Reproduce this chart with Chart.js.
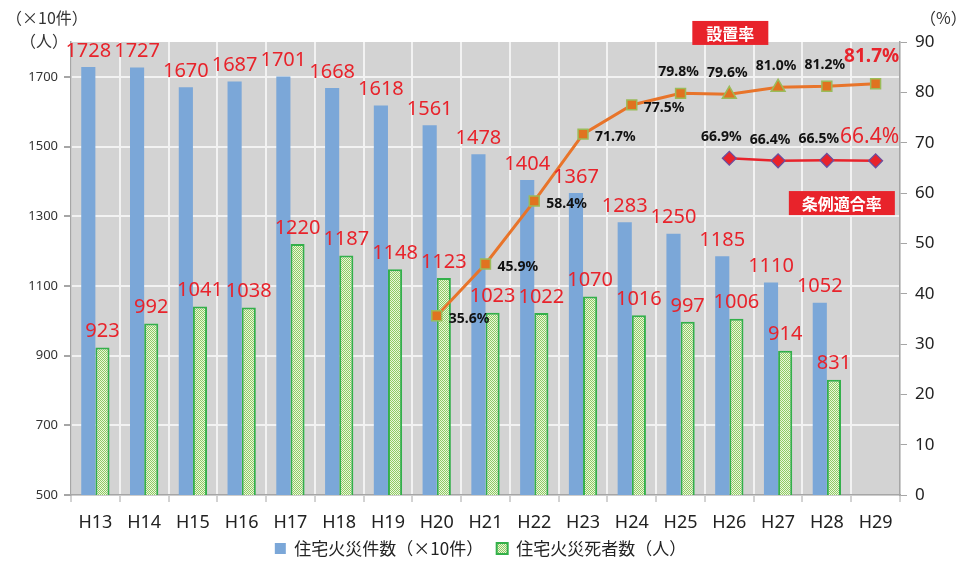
<!DOCTYPE html>
<html>
<head>
<meta charset="utf-8">
<script src="https://cdn.jsdelivr.net/npm/chart.js@4/dist/chart.umd.min.js"></script>
<style>
  html, body { margin: 0; padding: 0; background: #fff; }
  #wrap { width: 961px; height: 561px; }
</style>
</head>
<body>
<div id="wrap"><canvas id="fires"></canvas></div>
<script>
const years = ['H13','H14','H15','H16','H17','H18','H19','H20','H21','H22','H23','H24','H25','H26','H27','H28','H29'];
const fireCounts = [1728,1727,1670,1687,1701,1668,1618,1561,1478,1404,1367,1283,1250,1185,1110,1052,null];
const fireDeaths = [923,992,1041,1038,1220,1187,1148,1123,1023,1022,1070,1016,997,1006,914,831,null];
const installRate = [null,null,null,null,null,null,null,35.6,45.9,58.4,71.7,77.5,79.8,79.6,81.0,81.2,81.7];
const complianceRate = [null,null,null,null,null,null,null,null,null,null,null,null,null,66.9,66.4,66.5,66.4];
const leftTicks = [500,700,900,1100,1300,1500,1700];
const rightTicks = [0,10,20,30,40,50,60,70,80,90];

// where the % labels sit next to each point
const installLabelPos = [null,null,null,null,null,null,null,'right','right','right','right','right','top','top','top','top','top'];

const RED = '#E8232B';
const FONT = '"Noto Sans CJK JP", "Noto Sans", sans-serif';

function hatch() {
  const c = document.createElement('canvas');
  c.width = 4; c.height = 4;
  const g = c.getContext('2d');
  g.fillStyle = '#EAF6DC';
  g.fillRect(0, 0, 4, 4);
  g.fillStyle = '#8FCB63';
  for (let i = 0; i < 4; i++) {
    g.fillRect(i, i, 1, 1);
    g.fillRect((i + 2) % 4, i, 1, 1);
  }
  return g.createPattern(c, 'repeat');
}
const greenFill = hatch();

const decorations = {
  id: 'decorations',
  afterInit(chart) {
    // keep the legend strip thin so the plot reaches down like the original
    const lg = chart.legend;
    const fit = lg.fit;
    lg.fit = function() { fit.call(this); this.height = 26; };
  },
  beforeDraw(chart) {
    const { ctx, chartArea: a } = chart;
    ctx.save();
    ctx.fillStyle = '#D3D3D3';
    ctx.fillRect(a.left, a.top, a.right - a.left, a.bottom - a.top);
    ctx.restore();
  },
  afterDatasetsDraw(chart) {
    const { ctx } = chart;
    const x = chart.scales.x, yR = chart.scales.yR;
    ctx.save();

    // bar value labels
    ctx.font = '20px "Noto Sans", sans-serif';
    ctx.fillStyle = RED;
    ctx.textAlign = 'center';
    ctx.textBaseline = 'middle';
    [0, 1].forEach(di => {
      chart.getDatasetMeta(di).data.forEach((bar, i) => {
        const v = chart.data.datasets[di].data[i];
        if (v == null) return;
        ctx.fillText(String(v), bar.x, bar.y - 16);
      });
    });

    // percentage labels
    const last = years.length - 1;
    chart.getDatasetMeta(2).data.forEach((p, i) => {
      const v = installRate[i];
      if (v == null) return;
      const txt = v.toFixed(1) + '%';
      if (i === last) {
        ctx.font = 'bold 19px "Noto Sans", sans-serif';
        ctx.fillStyle = RED;
        ctx.textAlign = 'center';
        ctx.fillText(txt, p.x - 4, p.y - 27);
        return;
      }
      ctx.font = 'bold 14px "Noto Sans", sans-serif';
      ctx.fillStyle = '#111';
      if (installLabelPos[i] === 'right') {
        ctx.textAlign = 'left';
        ctx.fillText(txt, p.x + 12, p.y + 3);
      } else {
        ctx.textAlign = 'center';
        ctx.fillText(txt, p.x - 2, p.y - 21);
      }
    });
    chart.getDatasetMeta(3).data.forEach((p, i) => {
      const v = complianceRate[i];
      if (v == null) return;
      const txt = v.toFixed(1) + '%';
      ctx.textAlign = 'center';
      if (i === last) {
        ctx.font = '21px "Noto Sans", sans-serif';
        ctx.fillStyle = RED;
        ctx.fillText(txt, p.x - 6, p.y - 24);
      } else {
        ctx.font = 'bold 14px "Noto Sans", sans-serif';
        ctx.fillStyle = '#111';
        ctx.fillText(txt, p.x - 8, p.y - 21);
      }
    });

    // red name tags
    function tag(text, cx, cy, w) {
      ctx.fillStyle = RED;
      ctx.fillRect(cx - w / 2, cy - 12, w, 24);
      ctx.fillStyle = '#fff';
      ctx.font = 'bold 16px ' + FONT;
      ctx.textAlign = 'center';
      ctx.fillText(text, cx, cy + 1);
    }
    tag('設置率', x.getPixelForValue(13) + 1, yR.getPixelForValue(91.8), 76);
    tag('条例適合率', x.getPixelForValue(15) + 15, yR.getPixelForValue(58), 106);

    // axis unit captions
    ctx.fillStyle = '#333';
    ctx.font = '16px ' + FONT;
    ctx.textAlign = 'left';
    ctx.fillText('（×10件）', 6, 18);
    ctx.fillText('（人）', 20, 41);
    ctx.fillText('（%）', 920, 18);
    ctx.restore();
  }
};

new Chart(document.getElementById('fires'), {
  data: {
    labels: years,
    datasets: [
      {
        type: 'bar',
        label: '住宅火災件数（×10件）',
        data: fireCounts,
        backgroundColor: '#7BA7D8',
        borderWidth: 0,
        yAxisID: 'y',
        order: 2,
        barPercentage: 1.0,
        categoryPercentage: 0.58
      },
      {
        type: 'bar',
        label: '住宅火災死者数（人）',
        data: fireDeaths,
        backgroundColor: greenFill,
        borderColor: '#33B04A',
        borderWidth: 2,
        borderSkipped: false,
        yAxisID: 'y',
        order: 2,
        barPercentage: 1.0,
        categoryPercentage: 0.58
      },
      {
        type: 'line',
        label: '設置率',
        data: installRate,
        borderColor: '#E8742A',
        borderWidth: 3,
        pointStyle: installRate.map((v, i) => (i === 13 || i === 14) ? 'triangle' : 'rect'),
        pointRadius: installRate.map((v, i) => (i === 13 || i === 14) ? 8 : 7),
        pointBackgroundColor: '#E07320',
        pointBorderColor: '#9BBB59',
        pointBorderWidth: 1.5,
        yAxisID: 'yR',
        order: 0
      },
      {
        type: 'line',
        label: '条例適合率',
        data: complianceRate,
        borderColor: RED,
        borderWidth: 2.5,
        pointStyle: 'rectRot',
        pointRadius: 7,
        pointBackgroundColor: RED,
        pointBorderColor: '#6A4FA0',
        pointBorderWidth: 1.2,
        yAxisID: 'yR',
        order: 0
      }
    ]
  },
  options: {
    responsive: true,
    maintainAspectRatio: false,
    animation: false,
    layout: { padding: { top: 42, left: 0, right: 0, bottom: 0 } },
    scales: {
      x: {
        offset: true,
        grid: { color: '#F2F2F2', lineWidth: 2, offset: true, tickLength: 7, tickColor: '#A6A6A6', tickWidth: 1 },
        border: { color: '#A6A6A6', width: 1.5 },
        ticks: { color: '#222', font: { family: '"Noto Sans", sans-serif', size: 18 }, padding: 10 },
        afterFit(s) { s.height = 40; }
      },
      y: {
        position: 'left',
        min: 500,
        max: 1800,
        afterBuildTicks(s) { s.ticks = leftTicks.map(v => ({ value: v })); },
        grid: { color: '#F2F2F2', lineWidth: 2, tickLength: 7, tickColor: '#A6A6A6' },
        border: { color: '#A6A6A6', width: 1.5 },
        ticks: {
          color: '#333',
          font: { family: '"Noto Sans", sans-serif', size: 13 },
          padding: 6,
          callback: v => String(v)
        },
        afterFit(s) { s.width = 71; }
      },
      yR: {
        position: 'right',
        min: 0,
        max: 90,
        afterBuildTicks(s) { s.ticks = rightTicks.map(v => ({ value: v })); },
        grid: { drawOnChartArea: false, tickLength: 7, tickColor: '#A6A6A6' },
        border: { color: '#A6A6A6', width: 1.5 },
        ticks: { color: '#222', font: { family: '"Noto Sans", sans-serif', size: 17 }, padding: 8 },
        afterFit(s) { s.width = 61; }
      }
    },
    plugins: {
      legend: {
        position: 'bottom',
        labels: {
          generateLabels(chart) {
            const items = Chart.defaults.plugins.legend.labels.generateLabels(chart);
            return items.filter(it => it.datasetIndex < 2).map(it => {
              if (it.datasetIndex === 0) it.text = it.text + '\u3000';
              return it;
            });
          },
          boxWidth: 11,
          boxHeight: 11,
          padding: 5,
          color: '#222',
          font: { family: FONT, size: 17 }
        }
      },
      tooltip: { enabled: false }
    }
  },
  plugins: [decorations]
});
</script>
</body>
</html>
